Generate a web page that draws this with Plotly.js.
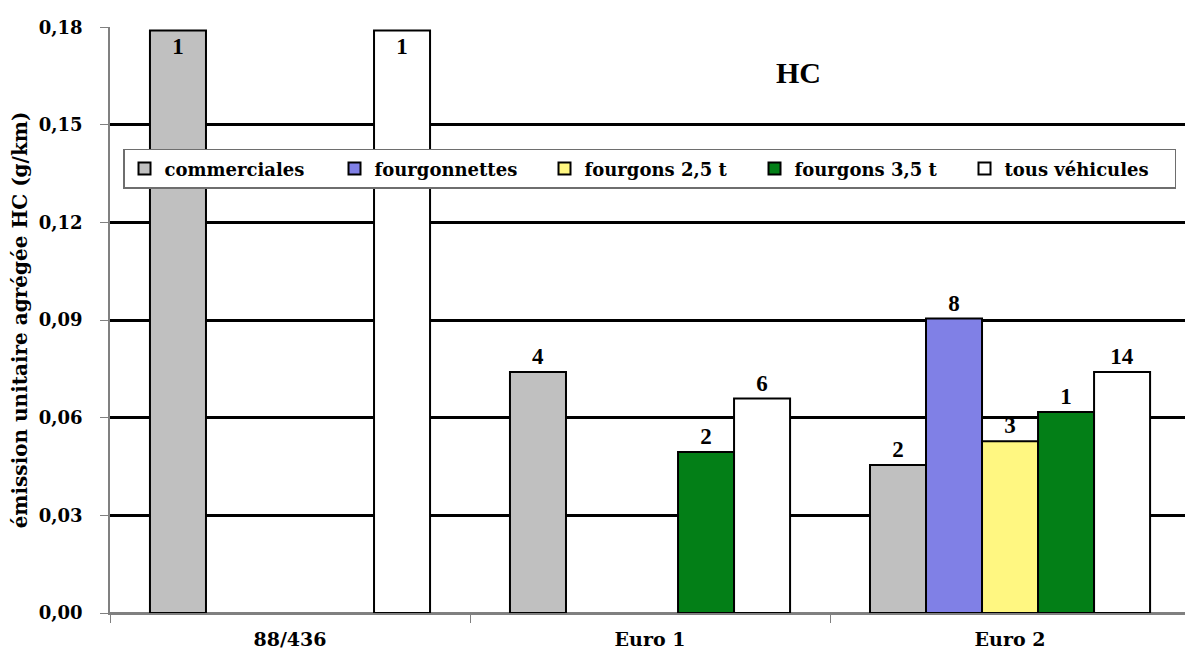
<!DOCTYPE html>
<html>
<head>
<meta charset="utf-8">
<script src="https://cdn.plot.ly/plotly-3.0.1.min.js"></script>
<style>
  html, body { margin: 0; padding: 0; background: #ffffff; }
  #chart { width: 1185px; height: 655px; }
</style>
</head>
<body>
<div id="chart"></div>
<script>
// Categories (norms)
const categories = ['88/436', 'Euro 1', 'Euro 2'];

// Series names
const seriesNames = ['commerciales', 'fourgonnettes', 'fourgons 2,5 t', 'fourgons 3,5 t', 'tous véhicules'];

// Aggregated unit HC emission (g/km)
const commerciales   = [0.179, 0.0741, 0.0455];
const fourgonnettes  = [null,  null,   0.0905];
const fourgons25     = [null,  null,   0.0528];
const fourgons35     = [null,  0.0495, 0.0618];
const tousVehicules  = [0.179, 0.0659, 0.0741];

// Number of vehicles (bar labels)
const commercialesN  = [1, 4, 2];
const fourgonnettesN = [null, null, 8];
const fourgons25N    = [null, null, 3];
const fourgons35N    = [null, 2, 1];
const tousVehiculesN = [1, 6, 14];

// Y axis ticks
const yTickVals = [0, 0.03, 0.06, 0.09, 0.12, 0.15, 0.18];

const colors = ['#C0C0C0', '#8080E6', '#FFF781', '#037F17', '#FFFFFF'];
const values = [commerciales, fourgonnettes, fourgons25, fourgons35, tousVehicules];
const counts = [commercialesN, fourgonnettesN, fourgons25N, fourgons35N, tousVehiculesN];

const YMAX = 0.18;

function f(size, family) {
  return { family: family || 'Liberation Serif', size: size, color: '#000000', weight: 'bold' };
}
function d(size) { return f(size, 'DejaVu Serif'); }

const traces = values.map((vals, i) => ({
  type: 'bar',
  name: seriesNames[i],
  x: categories,
  y: vals,
  text: counts[i].map(c => (c === null ? '' : String(c))),
  textposition: vals.map(v => (v !== null && v > YMAX * 0.93 ? 'inside' : 'outside')),
  insidetextanchor: 'end',
  textangle: 0,
  constraintext: 'none',
  cliponaxis: false,
  textfont: f(23),
  insidetextfont: f(23),
  outsidetextfont: f(23),
  marker: { color: colors[i], line: { color: '#000000', width: 2 } },
  hoverinfo: 'x+y+name'
}));

const layout = {
  width: 1185,
  height: 655,
  margin: { l: 110, r: 0, t: 27, b: 42, pad: 0 },
  paper_bgcolor: '#ffffff',
  plot_bgcolor: '#ffffff',
  separators: ', ',
  font: d(18),
  barmode: 'group',
  bargap: 0.222,
  bargroupgap: 0,
  showlegend: true,
  legend: {
    orientation: 'h',
    x: 0.0121, xanchor: 'left',
    y: 0.792, yanchor: 'top',
    bgcolor: '#ffffff',
    bordercolor: '#6e6e6e',
    borderwidth: 1.5,
    entrywidth: 165,
    entrywidthmode: 'pixels',
    font: d(18),
    traceorder: 'normal'
  },
  xaxis: {
    type: 'category',
    categoryarray: categories,
    range: [-0.5, 2.486],
    tickson: 'boundaries',
    ticks: 'outside',
    ticklen: 8,
    tickwidth: 1,
    tickcolor: '#808080',
    showline: true,
    linecolor: '#808080',
    linewidth: 1.5,
    showgrid: false,
    zeroline: false,
    ticklabelstandoff: 8,
    tickfont: d(19),
    fixedrange: true
  },
  yaxis: {
    range: [0, 0.1801],
    tickvals: yTickVals,
    tickformat: '.2f',
    ticks: 'outside',
    ticklen: 8,
    tickwidth: 1,
    tickcolor: '#808080',
    showline: true,
    linecolor: '#808080',
    linewidth: 1.5,
    showgrid: true,
    gridcolor: '#000000',
    gridwidth: 3,
    zeroline: true,
    zerolinecolor: '#808080',
    zerolinewidth: 1.5,
    ticklabelstandoff: 14,
    tickfont: d(18),
    title: {
      text: 'émission unitaire agrégée HC (g/km)',
      font: d(20),
      standoff: 6
    },
    automargin: false,
    fixedrange: true
  },
  annotations: [{
    text: 'HC',
    xref: 'paper', yref: 'paper',
    x: 0.64, y: 0.923,
    xanchor: 'center', yanchor: 'middle',
    showarrow: false,
    font: f(30)
  }]
};

Plotly.newPlot('chart', traces, layout, { displayModeBar: false, responsive: false });
</script>
</body>
</html>
